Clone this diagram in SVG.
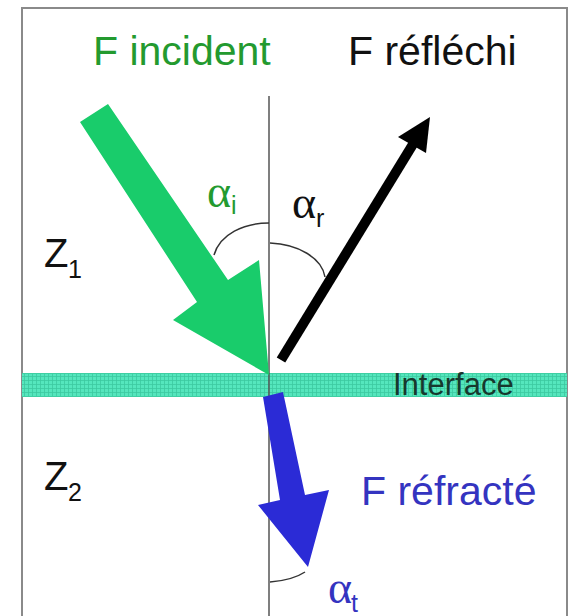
<svg xmlns="http://www.w3.org/2000/svg" width="569" height="616" viewBox="0 0 569 616">
  <defs>
    <style>
      .lbl { font-family: "Liberation Sans", Arial, sans-serif; font-size: 41px; }
      .z { font-family: "Liberation Sans", Arial, sans-serif; font-size: 40px; fill: #111; }
      .sub { font-family: "Liberation Sans", Arial, sans-serif; font-size: 25px; }
      .alpha { font-family: "Liberation Serif", "Times New Roman", serif; font-size: 46px; }
      .arc { fill: none; stroke: #333; stroke-width: 1.5; }
    </style>
    <pattern id="grid" width="4" height="4" patternUnits="userSpaceOnUse">
      <rect width="4" height="4" fill="#55e6bd"/>
      <path d="M0,0.5 H4 M0.5,0 V4" stroke="#3cc99f" stroke-width="0.8"/>
    </pattern>
  </defs>
  <rect width="569" height="616" fill="#ffffff"/>

  <g id="frame">
    <path d="M22,616 V8 H567 V616" fill="none" stroke="#8a8a8a" stroke-width="2"/>
  </g>

  <g id="interface">
    <rect x="22" y="373" width="545" height="24" fill="url(#grid)"/>
    <line x1="22" y1="373.5" x2="567" y2="373.5" stroke="#3fcfa3" stroke-width="1"/>
    <line x1="22" y1="396.5" x2="567" y2="396.5" stroke="#3fcfa3" stroke-width="1"/>
    <text x="393" y="395" font-family="'Liberation Sans', Arial, sans-serif" font-size="31" fill="#17382d">Interface</text>
  </g>

  <g id="normal">
    <line x1="269" y1="96" x2="269" y2="616" stroke="#555" stroke-width="1.5"/>
  </g>

  <g id="connectors">
    <polygon id="incident-arrow" points="108,104 228,280 259,260 269,375 173,320 197,302 80,122" fill="#19cc6b"/>
    <g id="reflected-arrow">
      <line x1="281" y1="360" x2="418" y2="136" stroke="#000" stroke-width="10"/>
      <polygon points="430,117 398,137 426,153" fill="#000"/>
    </g>
    <polygon id="refracted-arrow" points="283,392 305,495 329,490 308,567 258,505 280,500 263,397" fill="#2b2bd6"/>
  </g>

  <g id="angles">
    <path class="arc" d="M214,255 C220,234 244,223 269,223"/>
    <path class="arc" d="M270,243 C298,244 322,258 325,277"/>
    <path class="arc" d="M270,582 C283,581 296,578 305,572"/>
  </g>

  <g id="label-incident">
    <text class="lbl" x="93" y="65" fill="#239a2f">F incident</text>
  </g>
  <g id="label-reflechi">
    <text class="lbl" x="348" y="65" fill="#111">F réfléchi</text>
  </g>
  <g id="label-refracte">
    <text class="lbl" x="361" y="505" fill="#3434c0">F réfracté</text>
  </g>
  <g id="label-z1">
    <text class="z" x="44" y="267">Z</text>
    <text class="sub" x="68" y="278" fill="#111">1</text>
  </g>
  <g id="label-z2">
    <text class="z" x="44" y="490">Z</text>
    <text class="sub" x="68" y="501" fill="#111">2</text>
  </g>
  <g id="alpha-i">
    <text class="alpha" x="207" y="207" fill="#239a2f">α</text>
    <text class="sub" x="231" y="214" fill="#239a2f">i</text>
  </g>
  <g id="alpha-r">
    <text class="alpha" x="292" y="218" fill="#111">α</text>
    <text class="sub" x="316" y="227" fill="#111">r</text>
  </g>
  <g id="alpha-t">
    <text class="alpha" x="328" y="603" fill="#3434c0">α</text>
    <text class="sub" x="351" y="612" fill="#3434c0">t</text>
  </g>
</svg>
